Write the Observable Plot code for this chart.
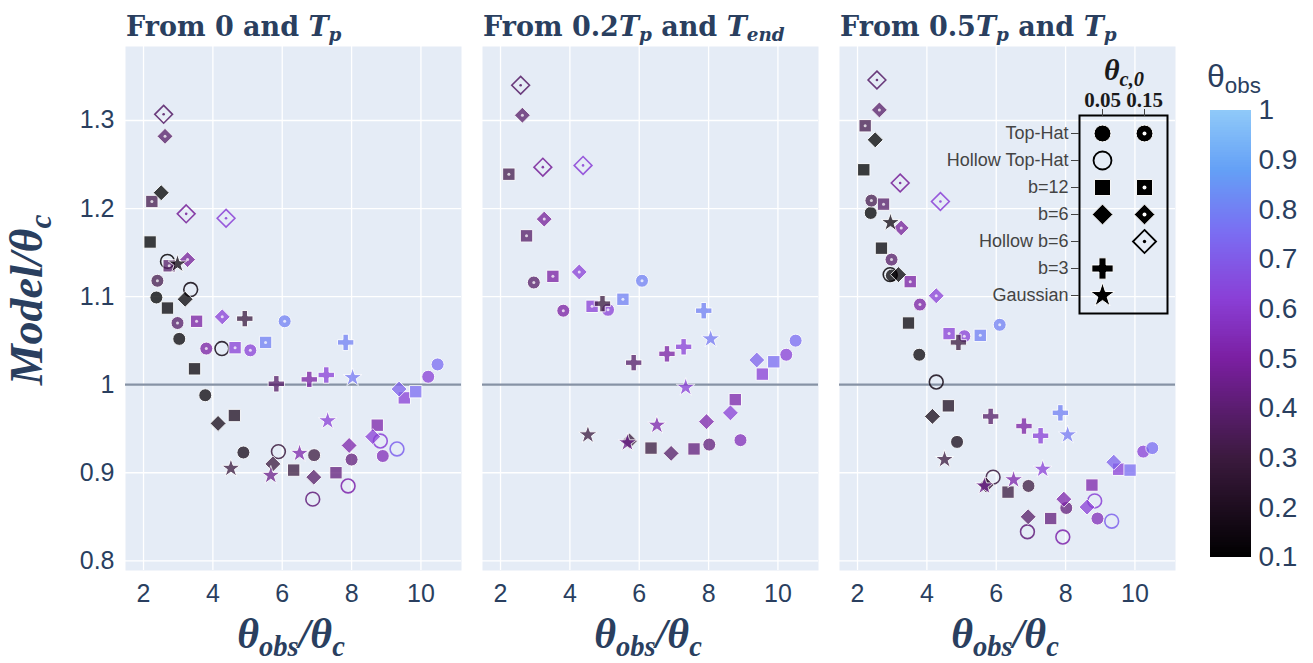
<!DOCTYPE html>
<html><head><meta charset="utf-8">
<script src="https://cdn.jsdelivr.net/npm/d3@7"></script>
<script src="https://cdn.jsdelivr.net/npm/@observablehq/plot@0.6"></script>
<style>
body{margin:0;background:#fff;}
#wrap{position:relative;width:1313px;height:663px;overflow:hidden;font-family:"Liberation Sans",Arial,sans-serif;color:#2a3f5f;}
.ptitle{font-family:"DejaVu Serif",serif;font-weight:bold;font-size:27px;line-height:1;white-space:nowrap;color:#2a3f5f;}
.mi{font-style:italic;}
.sb{font-size:0.68em;position:relative;top:0.28em;font-style:italic;}
.axt{font-family:"Liberation Serif",serif;font-weight:bold;font-style:italic;font-size:42px;line-height:1;white-space:nowrap;color:#2a3f5f;text-align:center;}
svg{overflow:visible;}
</style></head>
<body><div id="wrap"></div>
<script>
// ---------- data ----------
const xTicks = [2, 4, 6, 8, 10];
const xTickLabels = ["2", "4", "6", "8", "10"];
const yTicks = [0.8, 0.9, 1, 1.1, 1.2, 1.3];
const yTickLabels = ["0.8", "0.9", "1", "1.1", "1.2", "1.3"];
const cbTicks = [0.1, 0.2, 0.3, 0.4, 0.5, 0.6, 0.7, 0.8, 0.9, 1];
const cbTickLabels = ["0.1", "0.2", "0.3", "0.4", "0.5", "0.6", "0.7", "0.8", "0.9", "1"];
const colorStops = [0.1, 0.3, 0.5, 0.62, 0.75, 0.88, 1];
const colorRange = ["#000000", "#3b1a3e", "#7b1fa2", "#8a3fd6", "#7b6cf2", "#64a0f6", "#90caf9"];
const panelTitles = [
  'From 0 and <span class="mi">T</span><span class="sb">p</span>',
  'From 0.2<span class="mi">T</span><span class="sb">p</span> and <span class="mi">T</span><span class="sb">end</span>',
  'From 0.5<span class="mi">T</span><span class="sb">p</span> and <span class="mi">T</span><span class="sb">p</span>'
];
const modelNames = ["Top-Hat", "Hollow Top-Hat", "b=12", "b=6", "Hollow b=6", "b=3", "Gaussian"];
const thetaC0 = ["0.05", "0.15"];
const legendItems = [
  ["Top-Hat", "0.05", "TH05"], ["Top-Hat", "0.15", "TH15"],
  ["Hollow Top-Hat", "0.05", "HTH05"],
  ["b=12", "0.05", "B12_05"], ["b=12", "0.15", "B12_15"],
  ["b=6", "0.05", "B6_05"], ["b=6", "0.15", "B6_15"],
  ["Hollow b=6", "0.15", "HB6_15"],
  ["b=3", "0.05", "B3_05"],
  ["Gaussian", "0.05", "G05"]
];
// rows: [model, θobs/θc, Model/θc, θobs]
const panel1 = [
  ["TH05",2.37,1.099,0.10],["TH05",3.03,1.052,0.12],["TH05",3.78,0.988,0.13],["TH05",4.88,0.923,0.17],["TH05",6.92,0.920,0.30],["TH05",8.00,0.915,0.42],["TH05",8.90,0.919,0.55],["TH05",10.21,1.009,0.62],["TH05",10.48,1.023,0.75],
  ["TH15",2.40,1.118,0.33],["TH15",2.98,1.070,0.38],["TH15",3.81,1.041,0.50],["TH15",5.08,1.039,0.62],["TH15",6.07,1.072,0.80],
  ["HTH05",2.69,1.140,0.12],["HTH05",3.36,1.108,0.15],["HTH05",4.26,1.041,0.17],["HTH05",5.89,0.924,0.30],["HTH05",6.88,0.870,0.42],["HTH05",7.90,0.885,0.52],["HTH05",8.83,0.936,0.62],["HTH05",9.31,0.927,0.72],
  ["B12_05",2.19,1.162,0.10],["B12_05",2.69,1.087,0.12],["B12_05",3.47,1.018,0.13],["B12_05",4.62,0.965,0.20],["B12_05",6.33,0.903,0.30],["B12_05",7.55,0.900,0.42],["B12_05",8.74,0.954,0.52],["B12_05",9.52,0.985,0.62],["B12_05",9.85,0.992,0.75],
  ["B12_15",2.24,1.208,0.33],["B12_15",2.74,1.135,0.38],["B12_15",3.53,1.072,0.50],["B12_15",4.64,1.042,0.62],["B12_15",5.52,1.048,0.80],
  ["B6_05",2.51,1.218,0.10],["B6_05",3.20,1.097,0.12],["B6_05",4.15,0.956,0.17],["B6_05",5.73,0.910,0.30],["B6_05",6.91,0.895,0.38],["B6_05",7.93,0.931,0.52],["B6_05",8.61,0.941,0.62],["B6_05",9.37,0.995,0.72],
  ["B6_15",2.62,1.282,0.38],["B6_15",3.27,1.142,0.48],["B6_15",4.27,1.077,0.62],
  ["HB6_15",2.58,1.307,0.38],["HB6_15",3.23,1.194,0.48],["HB6_15",4.38,1.189,0.62],
  ["B3_05",4.92,1.075,0.30],["B3_05",5.83,1.001,0.38],["B3_05",6.78,1.006,0.50],["B3_05",7.27,1.011,0.62],["B3_05",7.83,1.048,0.80],
  ["G05",2.98,1.137,0.15],["G05",4.52,0.905,0.30],["G05",5.67,0.897,0.45],["G05",6.50,0.922,0.52],["G05",7.31,0.959,0.62],["G05",8.03,1.008,0.78]
];
const panel2 = [
  ["TH05",8.02,0.932,0.42],["TH05",8.92,0.937,0.55],["TH05",10.24,1.034,0.62],["TH05",10.51,1.050,0.75],
  ["TH15",2.96,1.116,0.38],["TH15",3.81,1.084,0.50],["TH15",5.10,1.085,0.62],["TH15",6.08,1.118,0.80],
  ["B12_05",6.34,0.928,0.30],["B12_05",7.58,0.927,0.42],["B12_05",8.77,0.983,0.52],["B12_05",9.55,1.012,0.62],["B12_05",9.88,1.026,0.75],
  ["B12_15",2.24,1.239,0.33],["B12_15",2.75,1.169,0.38],["B12_15",3.51,1.123,0.50],["B12_15",4.64,1.089,0.62],["B12_15",5.53,1.097,0.80],
  ["B6_05",5.72,0.936,0.28],["B6_05",6.92,0.922,0.38],["B6_05",7.94,0.958,0.52],["B6_05",8.63,0.968,0.62],["B6_05",9.39,1.028,0.72],
  ["B6_15",2.63,1.306,0.38],["B6_15",3.26,1.188,0.48],["B6_15",4.27,1.128,0.62],
  ["HB6_15",2.58,1.340,0.38],["HB6_15",3.22,1.247,0.48],["HB6_15",4.38,1.249,0.62],
  ["B3_05",4.94,1.092,0.30],["B3_05",5.84,1.025,0.38],["B3_05",6.80,1.035,0.50],["B3_05",7.28,1.043,0.62],["B3_05",7.86,1.084,0.80],
  ["G05",4.52,0.943,0.30],["G05",5.66,0.934,0.45],["G05",6.51,0.954,0.52],["G05",7.34,0.997,0.62],["G05",8.06,1.052,0.78]
];
const panel3 = [
  ["TH05",2.38,1.195,0.10],["TH05",2.99,1.124,0.12],["TH05",3.78,1.034,0.13],["TH05",4.87,0.935,0.17],["TH05",6.93,0.885,0.30],["TH05",8.02,0.860,0.42],["TH05",8.92,0.848,0.55],["TH05",10.24,0.924,0.62],["TH05",10.50,0.928,0.75],
  ["TH15",2.40,1.209,0.33],["TH15",2.98,1.142,0.38],["TH15",3.80,1.091,0.50],["TH15",5.08,1.055,0.62],["TH15",6.10,1.068,0.80],
  ["HTH05",2.94,1.125,0.12],["HTH05",4.27,1.003,0.17],["HTH05",5.91,0.895,0.30],["HTH05",6.90,0.833,0.42],["HTH05",7.92,0.827,0.52],["HTH05",8.84,0.868,0.62],["HTH05",9.33,0.845,0.72],
  ["B12_05",2.18,1.244,0.10],["B12_05",2.69,1.155,0.12],["B12_05",3.47,1.070,0.13],["B12_05",4.62,0.976,0.20],["B12_05",6.34,0.878,0.30],["B12_05",7.57,0.848,0.42],["B12_05",8.76,0.886,0.52],["B12_05",9.53,0.904,0.62],["B12_05",9.86,0.903,0.75],
  ["B12_15",2.22,1.294,0.33],["B12_15",2.75,1.205,0.38],["B12_15",3.52,1.117,0.50],["B12_15",4.64,1.058,0.62],["B12_15",5.54,1.056,0.80],
  ["B6_05",2.51,1.278,0.10],["B6_05",3.18,1.125,0.12],["B6_05",4.16,0.964,0.17],["B6_05",5.71,0.886,0.28],["B6_05",6.92,0.850,0.38],["B6_05",7.95,0.870,0.52],["B6_05",8.62,0.861,0.62],["B6_05",9.39,0.912,0.72],
  ["B6_15",2.63,1.312,0.38],["B6_15",3.26,1.178,0.48],["B6_15",4.27,1.101,0.62],
  ["HB6_15",2.56,1.346,0.38],["HB6_15",3.23,1.229,0.48],["HB6_15",4.39,1.208,0.62],
  ["B3_05",4.91,1.048,0.30],["B3_05",5.84,0.964,0.38],["B3_05",6.80,0.953,0.50],["B3_05",7.28,0.942,0.62],["B3_05",7.85,0.968,0.80],
  ["G05",2.95,1.184,0.15],["G05",4.51,0.915,0.30],["G05",5.66,0.885,0.45],["G05",6.50,0.892,0.52],["G05",7.34,0.904,0.62],["G05",8.06,0.943,0.78]
];
const panels = [panel1, panel2, panel3];

// ---------- styling ----------
const modelOrder = ["TH05","TH15","HTH05","B12_05","B12_15","B6_05","B6_15","HB6_15","B3_05","G05"];
const styles = {
  TH05:  {symbol: d3.symbolCircle,   r: 6.5},
  TH15:  {symbol: d3.symbolCircle,   r: 6.5, dot: true},
  HTH05: {symbol: d3.symbolCircle,   r: 6.9, open: true},
  B12_05:{symbol: d3.symbolSquare,   r: 7.0},
  B12_15:{symbol: d3.symbolSquare,   r: 7.0, dot: true},
  B6_05: {symbol: d3.symbolDiamond2, r: 7.2},
  B6_15: {symbol: d3.symbolDiamond2, r: 7.2, dot: true},
  HB6_15:{symbol: d3.symbolDiamond2, r: 8.0, open: true, dot: true},
  B3_05: {symbol: d3.symbolCross,    r: 6.9},
  G05:   {symbol: d3.symbolStar,     r: 5.9}
};
const colorScale = {type: "linear", domain: colorStops, range: colorRange, interpolate: "rgb"};

function markerMarks(rows, code, k, X, Y, F, op) {
  const st = styles[code];
  const out = [];
  if (st.open) {
    out.push(Plot.dot(rows, {x: X, y: Y, symbol: st.symbol, r: st.r * k, fill: "none", stroke: F, strokeWidth: 1.6 * Math.sqrt(k), opacity: Math.min(1, op + 0.1)}));
    if (st.dot) out.push(Plot.dot(rows, {x: X, y: Y, symbol: d3.symbolCircle, r: 1.3 * k, fill: F, stroke: "none", opacity: Math.min(1, op + 0.1)}));
  } else {
    out.push(Plot.dot(rows, {x: X, y: Y, symbol: st.symbol, r: st.r * k, fill: F, stroke: "white", strokeWidth: 1, opacity: op}));
    if (st.dot) out.push(Plot.dot(rows, {x: X, y: Y, symbol: d3.symbolCircle, r: 1.5 * k, fill: "white", stroke: "none", opacity: op}));
  }
  return out;
}

const wrap = document.getElementById("wrap");
function place(el, left, top) {
  el.style.position = "absolute"; el.style.left = left + "px"; el.style.top = top + "px";
  wrap.appendChild(el);
}

// ---------- panels ----------
const panelLefts = [125, 482, 839];
const PW = 336, PH = 524, PT = 46;
const fontStack = "'Liberation Sans', Arial, sans-serif";
panels.forEach((data, i) => {
  const first = i === 0;
  const ml = first ? 125 : 12, mr = 12, mt = 12, mb = 60;
  const marks = [
    Plot.frame({fill: "#E5ECF6", stroke: "none"}),
    Plot.gridX(xTicks, {stroke: "white", strokeOpacity: 1, strokeWidth: 1.3}),
    Plot.gridY(yTicks, {stroke: "white", strokeOpacity: 1, strokeWidth: 1.3}),
    Plot.ruleY([1], {stroke: "#8692a5", strokeWidth: 2.2})
  ];
  for (const code of modelOrder) {
    const rows = data.filter(d => d[0] === code);
    if (rows.length) marks.push(...markerMarks(rows, code, 1, d => d[1], d => d[2], d => d[3], 0.75));
  }
  const chart = Plot.plot({
    width: ml + PW + mr, height: mt + PH + mb,
    marginLeft: ml, marginRight: mr, marginTop: mt, marginBottom: mb,
    x: {domain: [1.48, 11.17], ticks: xTicks, tickFormat: d => xTickLabels[xTicks.indexOf(d)], tickSize: 0, tickPadding: 14, label: null},
    y: {domain: [0.789, 1.384], ticks: yTicks, tickFormat: d => yTickLabels[yTicks.indexOf(d)], tickSize: 0, tickPadding: 11, label: null, axis: first ? "left" : null},
    color: colorScale,
    style: {fontSize: "25px", fontFamily: fontStack, color: "#2a3f5f", background: "transparent", overflow: "visible"},
    marks
  });
  place(chart, panelLefts[i] - ml, PT - mt);

  const t = document.createElement("div");
  t.className = "ptitle"; t.innerHTML = panelTitles[i];
  place(t, panelLefts[i] + 1, 13);

  const xt = document.createElement("div");
  xt.className = "axt"; xt.style.width = PW + "px";
  xt.innerHTML = 'θ<span class="sb">obs</span>/θ<span class="sb">c</span>';
  place(xt, panelLefts[i] - 2, 613);
});

// y axis title
const yt = document.createElement("div");
yt.className = "axt";
yt.style.width = "240px"; yt.style.height = "46px";
yt.style.fontSize = "46px";
yt.style.transform = "rotate(-90deg)";
yt.innerHTML = 'Model/θ<span class="sb">c</span>';
place(yt, 27 - 120, 300 - 23);

// ---------- shape legend (inset) ----------
{
  const ml = 170, mr = 4, mt = 30, mb = 4, bw = 88, bh = 198;
  const marks = [Plot.frame({stroke: "black", strokeWidth: 2})];
  for (const code of modelOrder) {
    const rows = legendItems.filter(d => d[2] === code);
    marks.push(...markerMarks(rows, code, 1.3, d => d[1], d => d[0], "black", 1));
  }
  marks.push(
    Plot.axisX({anchor: "top", tickSize: 7, tickPadding: 2, stroke: "#444", fill: "#1a1a1a", fontSize: 21, fontWeight: "bold", fontFamily: "'Liberation Serif', serif"}),
    Plot.axisY({anchor: "left", tickSize: 8, tickPadding: 3, stroke: "#444", fill: "#444", fontSize: 18, fontFamily: fontStack})
  );
  const leg = Plot.plot({
    width: ml + bw + mr, height: mt + bh + mb,
    marginLeft: ml, marginRight: mr, marginTop: mt, marginBottom: mb,
    x: {type: "point", domain: thetaC0, range: [ml + 23, ml + 65], padding: 0, label: null},
    y: {type: "point", domain: modelNames, range: [mt + 15, mt + 182], padding: 0, label: null},
    style: {fontSize: "18px", fontFamily: fontStack, color: "#444", background: "transparent", overflow: "visible"},
    marks
  });
  place(leg, 1079 - ml, 115 - mt);
  const lt = document.createElement("div");
  lt.style.fontFamily = "'Liberation Serif', serif"; lt.style.fontWeight = "bold"; lt.style.fontStyle = "italic";
  lt.style.fontSize = "30px"; lt.style.lineHeight = "1"; lt.style.color = "#1a1a1a"; lt.style.whiteSpace = "nowrap";
  lt.innerHTML = 'θ<span class="sb">c,0</span>';
  place(lt, 1104, 55);
}

// ---------- colour bar ----------
{
  const mt = 15, mb = 15, mr = 60, bw = 41, bh = 447;
  const step = 0.005;
  const bands = d3.range(0, 180).map(i => 0.1 + i * step);
  const cb = Plot.plot({
    width: bw + mr, height: mt + bh + mb,
    marginLeft: 0, marginRight: mr, marginTop: mt, marginBottom: mb,
    x: {domain: [0, 1], axis: null},
    y: {domain: [0.1, 1], ticks: cbTicks, tickFormat: d => cbTickLabels[cbTicks.indexOf(d)], tickSize: 0, tickPadding: 7, axis: "right", label: null},
    color: colorScale,
    style: {fontSize: "28px", fontFamily: fontStack, color: "#2a3f5f", background: "transparent", overflow: "visible"},
    marks: [
      Plot.rect(bands, {x1: 0, x2: 1, y1: d => d, y2: d => Math.min(1, d + step * 1.6), fill: d => d + step / 2, shapeRendering: "crispEdges"})
    ]
  });
  place(cb, 1210, 110 - mt);
  const ct = document.createElement("div");
  ct.style.fontFamily = fontStack; ct.style.fontSize = "32px"; ct.style.lineHeight = "1";
  ct.style.color = "#2a3f5f"; ct.style.whiteSpace = "nowrap";
  ct.innerHTML = 'θ<span style="font-size:0.7em;position:relative;top:0.25em">obs</span>';
  place(ct, 1207, 60);
}
</script></body></html>
